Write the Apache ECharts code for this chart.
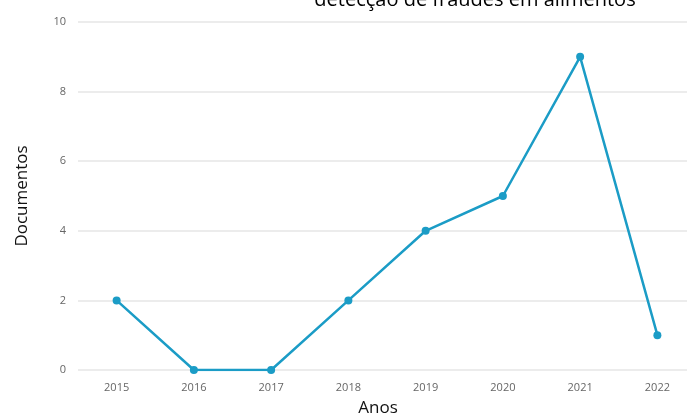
<!DOCTYPE html>
<html>
<head>
<meta charset="utf-8">
<script src="https://cdn.jsdelivr.net/npm/echarts@6/dist/echarts.min.js"></script>
<style>
  html, body { margin: 0; padding: 0; background: #fff; }
  #main { width: 687px; height: 416px; }
</style>
</head>
<body>
<div id="main"></div>
<script>
// dados
var anos = ['2015', '2016', '2017', '2018', '2019', '2020', '2021', '2022'];
var documentos = [2, 0, 0, 2, 4, 5, 9, 1];
var yTicks = [0, 2, 4, 6, 8, 10];

var chart = echarts.init(document.getElementById('main'));

var option = {
  backgroundColor: '#fff',
  animation: false,
  title: {
    text: 'detecção de fraudes em alimentos',
    left: 470,
    top: -15,
    textAlign: 'center',
    textStyle: {
      fontFamily: 'Open Sans',
      fontSize: 20,
      fontWeight: 'normal',
      color: '#000'
    }
  },
  grid: {
    left: 78,
    right: -9,
    top: 22,
    bottom: 46,
    outerBoundsMode: 'none',
    containLabel: false
  },
  xAxis: {
    type: 'category',
    data: anos,
    boundaryGap: true,
    name: 'Anos',
    nameLocation: 'middle',
    nameGap: 30,
    nameTextStyle: {
      fontFamily: 'Open Sans',
      fontSize: 17,
      color: '#111',
      padding: [0, 0, 0, -18]
    },
    axisLine: { show: false },
    axisTick: { show: false },
    axisLabel: {
      margin: 12,
      fontFamily: 'Open Sans',
      fontSize: 11,
      color: '#666'
    }
  },
  yAxis: {
    type: 'value',
    min: yTicks[0],
    max: yTicks[yTicks.length - 1],
    interval: 2,
    name: 'Documentos',
    nameLocation: 'middle',
    nameGap: 47,
    nameRotate: 90,
    nameTextStyle: {
      fontFamily: 'Open Sans',
      fontSize: 17,
      color: '#111'
    },
    axisLine: { show: false },
    axisTick: { show: false },
    axisLabel: {
      margin: 12,
      fontFamily: 'Open Sans',
      fontSize: 11,
      color: '#666'
    },
    splitLine: {
      lineStyle: { color: '#e6e6e6', width: 1.5 }
    }
  },
  series: [{
    type: 'line',
    data: documentos,
    symbol: 'circle',
    symbolSize: 8,
    lineStyle: { color: '#1b9cc6', width: 2.5 },
    itemStyle: { color: '#1b9cc6' }
  }]
};

chart.setOption(option);
</script>
</body>
</html>
